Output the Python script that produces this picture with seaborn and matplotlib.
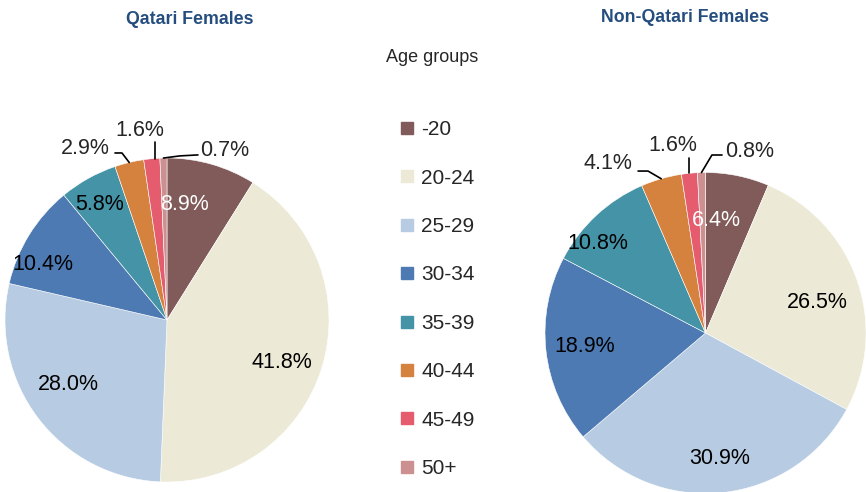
import matplotlib
matplotlib.use("Agg")
import matplotlib.pyplot as plt
from matplotlib.lines import Line2D
import seaborn as sns
import numpy as np

# Dados
age_groups = ["-20", "20-24", "25-29", "30-34", "35-39", "40-44", "45-49", "50+"]
qatari = [8.9, 41.8, 28.0, 10.4, 5.8, 2.9, 1.6, 0.7]
non_qatari = [6.4, 26.5, 30.9, 18.9, 10.8, 4.1, 1.6, 0.8]
titles = ["Qatari Females", "Non-Qatari Females"]

cores = sns.color_palette(["#805B5A", "#ECE9D6", "#B7CBE2", "#4D7AB3",
                           "#4493A6", "#D5823F", "#E45C6D", "#CC9091"])

sns.set_theme(style="white")
plt.rcParams["font.family"] = ["Liberation Sans", "DejaVu Sans"]

# layout dos rótulos internos (posição em raio unitário, estilo Excel)
pos_interno = {
    0: [(0.111, 0.71), (0.71, -0.26), (-0.611, -0.401), (-0.765, 0.34), (-0.414, 0.71)],
    1: [(0.065, 0.704), (0.695, 0.193), (0.09, -0.785), (-0.751, -0.081), (-0.67, 0.555)],
}
cor_texto = ["white", "black", "black", "black", "black"]
# rótulos externos: texto, cotovelo, fim da linha
externos = {
    0: {5: ((-0.506, 1.056), (-0.278, 1.031), (-0.321, 1.031)),
        6: ((-0.167, 1.167), (-0.074, 1.099), (-0.074, 1.099)),
        7: ((0.358, 1.049), (0.08, 1.013), (0.191, 1.019))},
    1: {5: ((-0.607, 1.059), (-0.358, 1.009), (-0.42, 1.009)),
        6: ((-0.202, 1.171), (-0.103, 1.090), (-0.103, 1.090)),
        7: ((0.277, 1.128), (0.040, 1.109), (0.103, 1.109))},
}

fig = plt.figure(figsize=(8.66, 4.92), dpi=100)
W, H = 866, 492
eixos = [
    fig.add_axes([5 / W, 10 / H, 324 / W, 324 / H]),
    fig.add_axes([545 / W, -1.5 / H, 321 / W, 321 / H]),
]

for i, (ax, vals) in enumerate(zip(eixos, [qatari, non_qatari])):
    wedges, _ = ax.pie(vals, colors=cores, startangle=90, counterclock=False,
                       wedgeprops=dict(edgecolor="white", linewidth=0.4))
    ax.set_xlim(-1, 1)
    ax.set_ylim(-1, 1)
    for j, w in enumerate(wedges):
        txt = f"{vals[j]:.1f}%"
        if j < 5:
            x, y = pos_interno[i][j]
            ax.text(x, y, txt, ha="center", va="center", fontsize=15.5,
                    color=cor_texto[j])
        else:
            ang = np.deg2rad((w.theta1 + w.theta2) / 2)
            (tx, ty), (ex, ey), (fx, fy) = externos[i][j]
            px = ex if j == 6 else np.cos(ang)
            ax.plot([px, ex, fx], [np.sin(ang), ey, fy], color="black",
                    lw=1.2, clip_on=False)
            ax.text(tx, ty, txt, ha="center", va="center", fontsize=15.5)

fig.text(190 / W, 1 - 20 / H, titles[0], ha="center", va="center",
         fontsize=12.8, fontweight="bold", color="#254E7E")
fig.text(685 / W, 1 - 18 / H, titles[1], ha="center", va="center",
         fontsize=12.8, fontweight="bold", color="#254E7E")
fig.text(432 / W, 1 - 57 / H, "Age groups", ha="center", va="center",
         fontsize=13)

handles = [Line2D([0], [0], marker="s", linestyle="", markersize=8,
                  markerfacecolor=c, markeredgecolor=c) for c in cores]
fig.legend(handles, age_groups, loc="upper left",
           bbox_to_anchor=(390 / W, 1 - 112 / H), frameon=False,
           fontsize=15, labelspacing=1.41, handlelength=0.8,
           handletextpad=0.3, borderaxespad=0)

plt.savefig("out.png", dpi=100)
plt.close()
